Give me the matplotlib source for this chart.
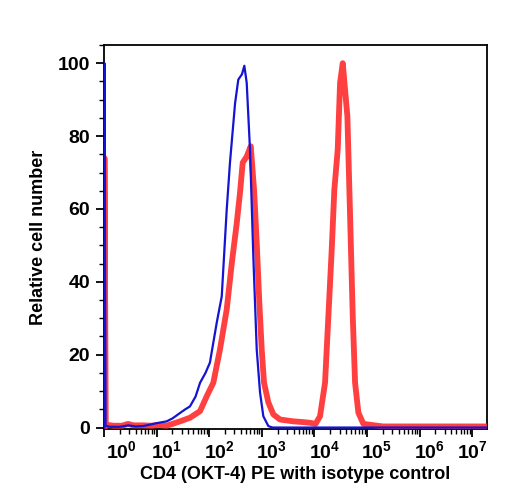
import matplotlib
matplotlib.use("Agg")
import matplotlib.pyplot as plt
import matplotlib.transforms as mtransforms
import numpy as np

plt.rcParams['font.family'] = ['Liberation Sans', 'DejaVu Sans']
plt.rcParams['font.weight'] = 'bold'
plt.rcParams['mathtext.fontset'] = 'custom'
plt.rcParams['mathtext.rm'] = 'Liberation Sans:bold'
plt.rcParams['mathtext.it'] = 'Liberation Sans:bold'
plt.rcParams['mathtext.bf'] = 'Liberation Sans:bold'

# isotype control (blue)
iso_x = [1.02, 1.02, 1.07, 1.3, 2.0, 2.9, 4.0, 5.5, 7.5, 10, 15.5, 20, 27.9, 35, 43, 55, 67, 85, 103,
         139, 173, 215, 248, 310, 357, 420, 465, 516, 597, 689, 800, 925, 1068, 1330, 1600, 1.86e7]
iso_y = [0.0, 100, 0.5, 0.2, 0.2, 0.6, 0.3, 0.4, 0.8, 1.2, 1.7, 2.5, 4.0, 5.0, 5.8, 8.5, 12.3, 15, 17.8,
         28.8, 36, 59.8, 72.7, 89, 95.5, 97, 99.3, 94.6, 76, 47, 21.4, 9.6, 3.1, 0.4, 0.0, 0.0]

# CD4 (OKT-4) PE (red)
cd4_x = [1.02, 1.02, 1.08, 1.5, 2.2, 2.86, 3.6, 5.5, 8.0, 11, 15.5, 20, 27.9, 43.2, 66.9, 89.7, 119.7,
         160, 215, 268, 333, 385, 433, 516, 615, 711, 800, 896, 996, 1101, 1330, 1655, 2218, 3970,
         6000, 8250, 10500, 12770, 15900, 18400, 21300, 23900, 27700, 30700, 34500, 42300, 47600,
         53500, 59200, 68400, 85100, 2e5, 1.86e7]
cd4_y = [0.0, 74, 0.8, 0.5, 0.5, 1.0, 0.6, 0.6, 0.5, 0.7, 0.5, 1.0, 1.7, 2.7, 4.5, 8.6, 12.3,
         21.4, 32.4, 45, 56, 64.5, 72.7, 74.4, 77.2, 65.3, 50.7, 34.3, 21.4, 12.3, 6.9, 3.6, 2.2, 1.7,
         1.5, 1.3, 1.0, 3.1, 12.3, 30.5, 48.8, 65.3, 76.3, 94.6, 100, 85.4, 58,
         30.5, 12.3, 4.1, 1.0, 0.3, 0.3]

xtick_vals = [1e0, 1e1, 1e2, 1e3, 1e4, 1e5, 1e6, 1e7]
xtick_labels = [r'$10^{0}$', r'$10^{1}$', r'$10^{2}$', r'$10^{3}$',
                r'$10^{4}$', r'$10^{5}$', r'$10^{6}$', r'$10^{7}$']
ytick_vals = [0, 20, 40, 60, 80, 100]

fig = plt.figure(figsize=(5.08, 5.0), dpi=100)
ax = fig.add_axes([104 / 508, 71 / 500, 383 / 508, 384 / 500])

ax.plot(cd4_x, cd4_y, color='#ff3030', lw=4.2, alpha=0.92, solid_joinstyle='round', zorder=3)
ax.plot(iso_x, iso_y, color='#1414d2', lw=1.6, zorder=3.1)

ax.set_xscale('log')
ax.set_xlim(1.0, 10 ** 7.28)
ax.set_ylim(-0.4, 105)

ax.set_xticks(xtick_vals)
ax.set_xticklabels(xtick_labels, fontsize=14)
ax.xaxis.set_minor_locator(matplotlib.ticker.LogLocator(base=10, subs=np.arange(2, 10)))
ax.xaxis.set_minor_formatter(matplotlib.ticker.NullFormatter())
ax.set_yticks(ytick_vals)
ax.set_yticklabels([str(v) for v in ytick_vals], fontsize=14)
ax.yaxis.set_minor_locator(matplotlib.ticker.MultipleLocator(5))

ax.tick_params(which='major', direction='out', length=6, width=1.3, pad=2)
ax.tick_params(which='minor', direction='out', length=3.5, width=1.0)
ax.tick_params(axis='y', pad=4)
for s in ax.spines.values():
    s.set_linewidth(1.3)

# tick labels sit slightly to the right of their ticks
for i, lab in enumerate(ax.get_xticklabels()):
    dx = 17 if i == 0 else (0 if i == len(xtick_vals) - 1 else 10)
    lab.set_transform(lab.get_transform() + mtransforms.ScaledTranslation(dx / 100, 0, fig.dpi_scale_trans))

ax.set_xlabel('CD4 (OKT-4) PE with isotype control', fontsize=13, fontweight='bold', labelpad=3)
ax.set_ylabel('Relative cell number', fontsize=13, fontweight='bold')
ax.yaxis.set_label_coords(-0.15, 0.5)

fig.savefig('out.png', dpi=100)
